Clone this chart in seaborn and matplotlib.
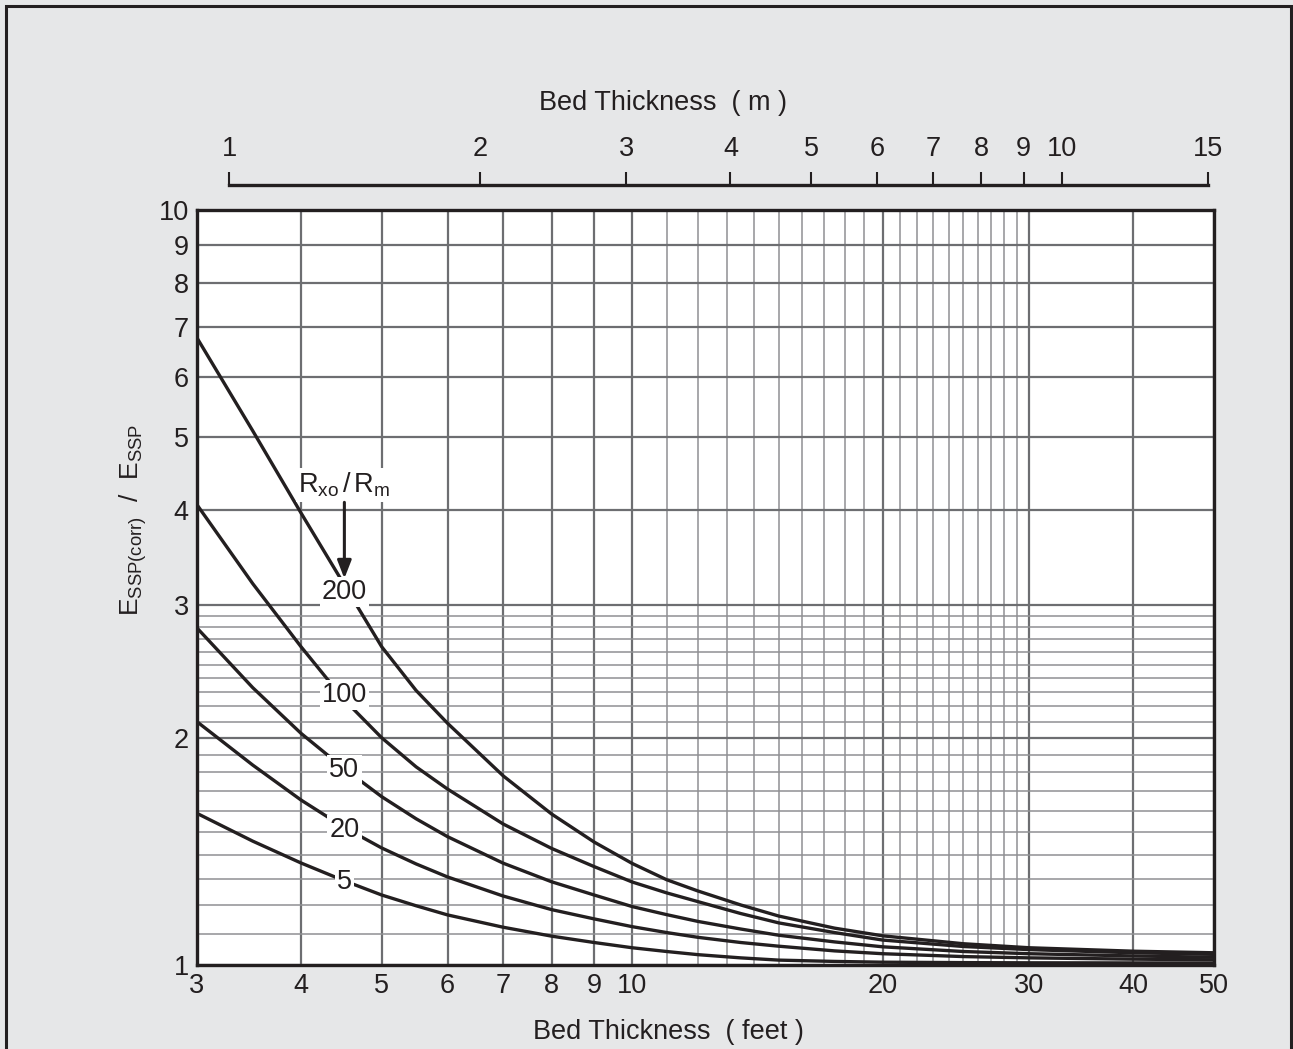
import numpy as np
import pandas as pd
import matplotlib
matplotlib.use("Agg")
import matplotlib.pyplot as plt
import seaborn as sns
from matplotlib.ticker import FixedLocator, NullFormatter, FixedFormatter
from matplotlib.patches import Rectangle

# ---------------- data ----------------
thickness_ft = [3, 3.5, 4, 4.5, 5, 5.5, 6, 7, 8, 9, 10, 11, 12, 13.5, 15, 17.5, 20, 25, 30, 40, 50]
ratio_200 = [6.77, 5.10, 3.97, 3.20, 2.64, 2.31, 2.09, 1.78, 1.585, 1.455, 1.363, 1.297, 1.253,
             1.201, 1.161, 1.119, 1.093, 1.067, 1.054, 1.043, 1.038]
ratio_100 = [4.07, 3.20, 2.64, 2.25, 2.00, 1.83, 1.71, 1.537, 1.427, 1.35, 1.288, 1.246, 1.213,
             1.170, 1.137, 1.104, 1.079, 1.058, 1.048, 1.038, 1.033]
ratio_50 = [2.795, 2.33, 2.027, 1.823, 1.671, 1.562, 1.479, 1.364, 1.289, 1.238, 1.195, 1.166, 1.142,
            1.116, 1.095, 1.073, 1.057, 1.042, 1.035, 1.028, 1.024]
ratio_20 = [2.10, 1.84, 1.654, 1.523, 1.429, 1.361, 1.308, 1.234, 1.184, 1.151, 1.124, 1.104, 1.088,
            1.071, 1.059, 1.044, 1.035, 1.026, 1.022, 1.018, 1.016]
ratio_5 = [1.588, 1.459, 1.365, 1.294, 1.238, 1.198, 1.165, 1.122, 1.092, 1.071, 1.054, 1.042, 1.032,
           1.022, 1.015, 1.011, 1.0086, 1.0073, 1.0067, 1.0064, 1.0061]
curve_names = ["200", "100", "50", "20", "5"]

x_ticks_ft = [3, 4, 5, 6, 7, 8, 9, 10, 20, 30, 40, 50]
x_minor_ft = [11, 12, 13, 14, 15, 16, 17, 18, 19, 21, 22, 23, 24, 25, 26, 27, 28, 29]
y_ticks = [1, 2, 3, 4, 5, 6, 7, 8, 9, 10]
y_minor = [1.1, 1.2, 1.3, 1.4, 1.5, 1.6, 1.7, 1.8, 1.9, 2.1, 2.2, 2.3, 2.4, 2.5, 2.6, 2.7, 2.8, 2.9]
m_ticks = [1, 2, 3, 4, 5, 6, 7, 8, 9, 10, 15]
FT_PER_M = 3.2808

series = [ratio_200, ratio_100, ratio_50, ratio_20, ratio_5]
df = pd.concat(
    [pd.DataFrame({"ft": thickness_ft, "ratio": vals, "curve": name})
     for name, vals in zip(curve_names, series)],
    ignore_index=True,
)

# ---------------- style ----------------
sns.set_theme(style="white")
plt.rcParams["font.family"] = ["Liberation Sans", "DejaVu Sans"]
plt.rcParams["mathtext.fontset"] = "custom"
plt.rcParams["mathtext.rm"] = "Liberation Sans"
plt.rcParams["mathtext.it"] = "Liberation Sans:italic"
plt.rcParams["mathtext.bf"] = "Liberation Sans:bold"

INK = "#231f20"
BG = "#e6e7e8"
GRID_MAJOR = "#6d6e71"
GRID_MINOR = "#8f9093"
FS = 19.5

W, H = 1293, 1049
fig = plt.figure(figsize=(W / 100, H / 100), dpi=100, facecolor=BG)

L, R, T, B = 197, 1214, 210, 965
ax = fig.add_axes([L / W, 1 - B / H, (R - L) / W, (B - T) / H])
ax.set_facecolor("white")
ax.set_xscale("log")
ax.set_yscale("log")
ax.set_xlim(3, 50)
ax.set_ylim(1, 10)

ax.xaxis.set_major_locator(FixedLocator(x_ticks_ft))
ax.xaxis.set_major_formatter(FixedFormatter([str(v) for v in x_ticks_ft]))
ax.xaxis.set_minor_locator(FixedLocator(x_minor_ft))
ax.xaxis.set_minor_formatter(NullFormatter())
ax.yaxis.set_major_locator(FixedLocator(y_ticks))
ax.yaxis.set_major_formatter(FixedFormatter([str(v) for v in y_ticks]))
ax.yaxis.set_minor_locator(FixedLocator(y_minor))
ax.yaxis.set_minor_formatter(NullFormatter())

ax.grid(which="major", color=GRID_MAJOR, lw=1.6, zorder=1)
ax.grid(which="minor", color=GRID_MINOR, lw=1.1, zorder=1)
ax.set_axisbelow(True)
ax.tick_params(which="both", length=0, colors=INK, labelsize=FS)
ax.tick_params(axis="x", pad=6)
ax.tick_params(axis="y", pad=6)
for s in ax.spines.values():
    s.set_color(INK)
    s.set_linewidth(2.4)
    s.set_zorder(5)

sns.lineplot(data=df, x="ft", y="ratio", hue="curve", palette=[INK] * 5,
             legend=False, linewidth=2.4, estimator=None, sort=False,
             ax=ax, zorder=3)
for ln in ax.get_lines():
    ln.set_solid_joinstyle("round")
ax.set_xlabel("")
ax.set_ylabel("")

# curve labels
lab_x = 4.51
lab_y = {"200": 3.12, "100": 2.28, "50": 1.813, "20": 1.51, "5": 1.288}
for name in curve_names:
    ax.text(lab_x, lab_y[name], name, fontsize=FS, color=INK, ha="center", va="center",
            zorder=4, bbox=dict(facecolor="white", edgecolor="none", pad=1.5))
ax.text(lab_x, 4.32, r"R$_{\mathrm{xo}}$$\,$/$\,$R$_{\mathrm{m}}$", fontsize=FS, color=INK,
        ha="center", va="center", zorder=4,
        bbox=dict(facecolor="white", edgecolor="none", pad=2))
ax.annotate("", xy=(lab_x, 3.25), xytext=(lab_x, 4.10),
            arrowprops=dict(arrowstyle="-|>,head_length=0.9,head_width=0.35",
                            color=INK, lw=2.2, shrinkA=0, shrinkB=0), zorder=4)

# ---------------- top metric scale ----------------
bar_y = 185
axt = fig.add_axes([L / W, 1 - bar_y / H - 0.001, (R - L) / W, 0.001])
axt.set_xscale("log")
axt.set_xlim(3 / FT_PER_M, 50 / FT_PER_M)
axt.patch.set_visible(False)
for k in ["left", "right", "bottom"]:
    axt.spines[k].set_visible(False)
axt.spines["top"].set_bounds(1, 15)
axt.spines["top"].set_color(INK)
axt.spines["top"].set_linewidth(2.4)
axt.set_yticks([])
axt.xaxis.tick_top()
axt.xaxis.set_major_locator(FixedLocator(m_ticks))
axt.xaxis.set_major_formatter(FixedFormatter([str(v) for v in m_ticks]))
axt.xaxis.set_minor_locator(FixedLocator([]))
axt.tick_params(axis="x", which="major", direction="out", length=9.5, width=1.5,
                colors=INK, labelsize=FS, pad=7)

# ---------------- titles ----------------
fig.text(663 / W, 1 - 103 / H, "Bed Thickness  ( m )", fontsize=FS, color=INK,
         ha="center", va="center")
fig.text(668 / W, 1 - 1032 / H, "Bed Thickness  ( feet )", fontsize=FS, color=INK,
         ha="center", va="center")
fig.text(133 / W, 1 - 520 / H,
         r"E$_{\mathrm{SSP(corr)}}$  /  E$_{\mathrm{SSP}}$", fontsize=19, color=INK,
         ha="center", va="center", rotation=90)

# outer frame (left, top, right visible; bottom runs off the page)
fig.add_artist(Rectangle((6 / W, -0.2), (1291 - 6) / W, 1.2 - 6 / H,
                         transform=fig.transFigure, fill=False, edgecolor=INK,
                         lw=2.2, clip_on=False))

fig.savefig("out.png", dpi=100, facecolor=BG)
